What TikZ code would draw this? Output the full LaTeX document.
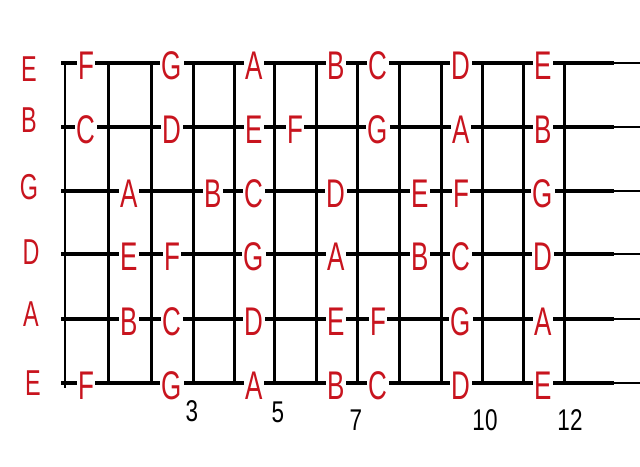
\documentclass[tikz,border=0pt]{standalone}
\usepackage{fontspec}
\setmainfont{Liberation Sans}
\definecolor{notered}{RGB}{200,20,30}
\newcommand{\nt}[1]{\scalebox{0.65}[1]{#1}}
\newcommand{\fnum}[1]{\scalebox{0.75}[1]{#1}}
\begin{document}
\begin{tikzpicture}[x=1pt,y=-1pt,
  stringline/.style={line width=3.2pt},
  stringtail/.style={line width=2.4pt},
  fretline/.style={line width=3pt},
  nutline/.style={line width=2.4pt},
  note/.style={text=notered, fill=white, inner sep=1.5pt, font=\fontsize{40}{40}\selectfont},
  openstr/.style={text=notered, inner sep=0pt, font=\fontsize{36}{36}\selectfont},
  fretnum/.style={inner sep=0pt, font=\fontsize{30}{30}\selectfont}]
\useasboundingbox[fill=white] (0,0) rectangle (640,466);
% frets
\coordinate (ft0) at (65,63); \coordinate (fb0) at (65,388);
\draw[nutline] (ft0) -- (fb0);
\foreach \i/\x in {1/108,2/151,3/193,4/234,5/274,6/316,7/357,8/399,9/441,10/482,11/523,12/564}{
  \coordinate (ft\i) at (\x,63); \coordinate (fb\i) at (\x,385);
  \draw[fretline] (ft\i) -- (fb\i);
}
% strings
\foreach \s/\y in {1/63,2/127,3/191,4/254,5/319,6/383}{
  \coordinate (sl\s) at (61,\y); \coordinate (sm\s) at (614,\y); \coordinate (sr\s) at (640,\y);
  \draw[stringline] (sl\s) -- (sm\s);
  \draw[stringtail] (sm\s) -- (sr\s);
}
% fret centres
\foreach \k/\x in {1/86,2/129,3/172,4/213,5/254,6/295,7/336,8/378,9/420,10/461,11/502,12/543}
  \coordinate (c\k) at (\x,0);
% notes
\foreach \f/\t in {1/F,3/G,5/A,7/B,8/C,10/D,12/E}
  \node[note, yshift=-3pt] (na\f) at (c\f |- sl1) {\nt{\t}};
\foreach \f/\t in {1/C,3/D,5/E,6/F,8/G,10/A,12/B}
  \node[note, yshift=-3pt] (nb\f) at (c\f |- sl2) {\nt{\t}};
\foreach \f/\t in {2/A,4/B,5/C,7/D,9/E,10/F,12/G}
  \node[note, yshift=-3pt] (nc\f) at (c\f |- sl3) {\nt{\t}};
\foreach \f/\t in {2/E,3/F,5/G,7/A,9/B,10/C,12/D}
  \node[note, yshift=-3pt] (nd\f) at (c\f |- sl4) {\nt{\t}};
\foreach \f/\t in {2/B,3/C,5/D,7/E,8/F,10/G,12/A}
  \node[note, yshift=-3pt] (ne\f) at (c\f |- sl5) {\nt{\t}};
\foreach \f/\t in {1/F,3/G,5/A,7/B,8/C,10/D,12/E}
  \node[note, yshift=-3pt] (nf\f) at (c\f |- sl6) {\nt{\t}};
% open string names
\node[openstr] (o1) at (29,69) {\nt{E}};
\node[openstr] (o2) at (29,120) {\nt{B}};
\node[openstr] (o3) at (29,187) {\nt{G}};
\node[openstr] (o4) at (31,252) {\nt{D}};
\node[openstr] (o5) at (31,314) {\nt{A}};
\node[openstr] (o6) at (33,383) {\nt{E}};
% fret numbers
\node[fretnum] (m3) at (192,411) {\fnum{3}};
\node[fretnum] (m5) at (278,412) {\fnum{5}};
\node[fretnum] (m7) at (356,420) {\fnum{7}};
\node[fretnum] (m10) at (485,420) {\fnum{10}};
\node[fretnum] (m12) at (570,420) {\fnum{12}};
\end{tikzpicture}
\end{document}
